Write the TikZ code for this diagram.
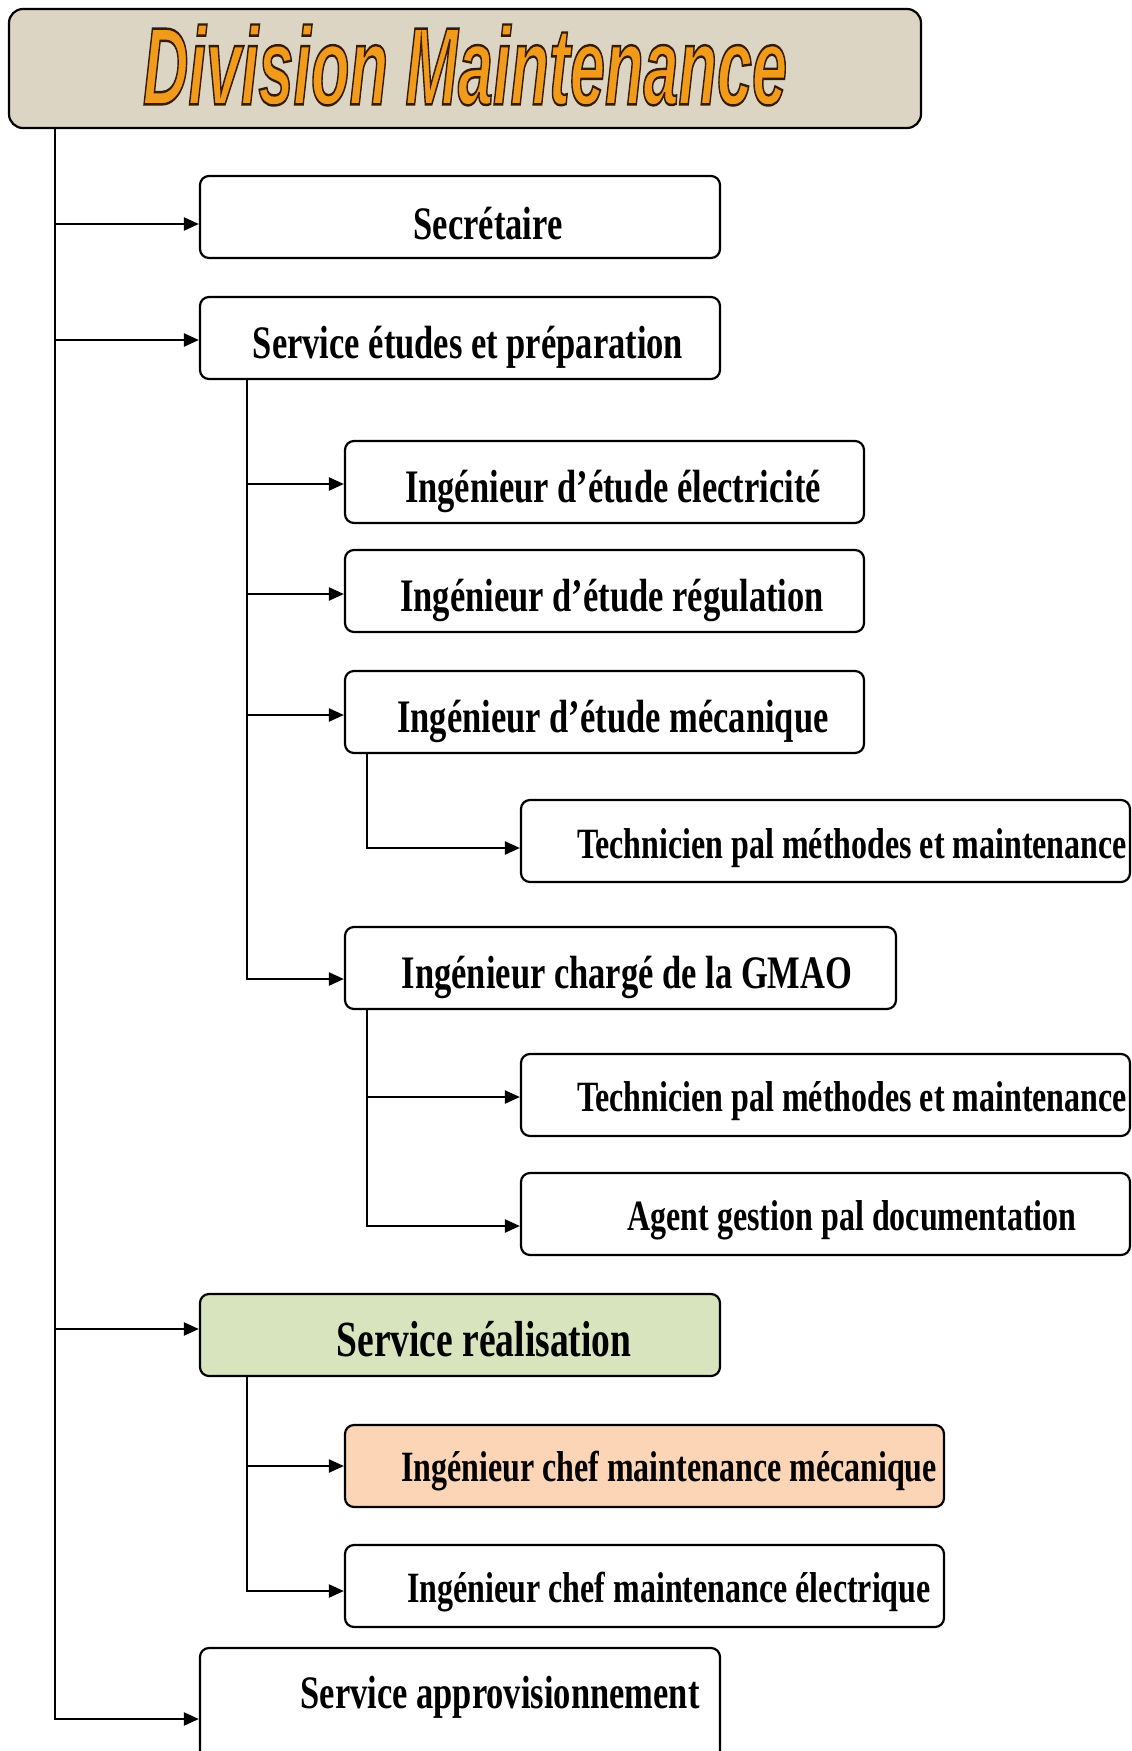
\documentclass[tikz,border=0pt]{standalone}
\usepackage{fontspec}
\usepackage{graphicx}
\setmainfont{Liberation Serif}
\newfontfamily\headfont[FakeBold=2.2]{Liberation Sans}
\usetikzlibrary{arrows.meta}
\definecolor{linen}{HTML}{DDD5C3}
\definecolor{realgreen}{HTML}{D7E4BD}
\definecolor{mecaorange}{HTML}{FBD5B5}
\definecolor{headorange}{HTML}{F29A1A}
\newcommand\tallbox[1]{\scalebox{1}[1.35]{#1}}
% heading letters: orange fill, dark brown outline stroke
\newcommand\divtitle{\headfont\bfseries\itshape\fontsize{63}{70}\selectfont
  \color{headorange}\special{pdf:code 0.2 0.11 0 RG}%
  \scalebox{1}[1.75]{Division Maintenance}}
\begin{document}
\begin{tikzpicture}[x=1pt,y=-1pt,
  box/.style={draw=black, line width=2.2pt, rounded corners=9pt, fill=white,
              inner sep=0pt, minimum height=82pt},
  lbl/.style={inner sep=0pt, font=\fontsize{34.5}{40}\selectfont\bfseries},
  lblsmall/.style={inner sep=0pt, font=\fontsize{32}{38}\selectfont\bfseries},
  lblbig/.style={inner sep=0pt, font=\fontsize{37.5}{44}\selectfont\bfseries},
  arr/.style={line width=2.2pt, -{Triangle[length=15pt,width=13pt]}}
]
\useasboundingbox (0,0) rectangle (1132,1751);

% heading banner
\node[draw=black, line width=2.2pt, rounded corners=14pt, fill=linen,
      minimum width=912pt, minimum height=119pt] (head) at (465,68.5) {};
\node[inner sep=0pt] (headtxt) at (465,65) {\divtitle};

% first level
\node[box, minimum width=520pt] (sec) at (460,217) {};
\node[lbl] at (488,224) {\tallbox{Secrétaire}};
\node[box, minimum width=520pt] (etu) at (460,338) {};
\node[lbl] at (468,347) {\tallbox{Service études et préparation}};
\node[box, minimum width=520pt, fill=realgreen] (real) at (460,1335) {};
\node[lblbig] at (484,1339) {\tallbox{Service réalisation}};
\node[box, minimum width=520pt, minimum height=150pt] (appro) at (460,1723) {};
\node[lbl] at (500,1697) {\tallbox{Service approvisionnement}};

% studies branch
\node[box, minimum width=519pt] (elec) at (604.5,482) {};
\node[lbl] at (613,491) {\tallbox{Ingénieur d’étude électricité}};
\node[box, minimum width=519pt] (regu) at (604.5,591) {};
\node[lbl] at (612,600) {\tallbox{Ingénieur d’étude régulation}};
\node[box, minimum width=519pt] (meca) at (604.5,712) {};
\node[lbl] at (613,721) {\tallbox{Ingénieur d’étude mécanique}};
\node[box, minimum width=609pt] (tecA) at (825.5,841) {};
\node[lblsmall] at (852,848) {\tallbox{Technicien pal méthodes et maintenance}};
\node[box, minimum width=551pt] (gmao) at (620.5,968) {};
\node[lbl] at (627,977) {\tallbox{Ingénieur chargé de la GMAO}};
\node[box, minimum width=609pt] (tecB) at (825.5,1095) {};
\node[lblsmall] at (852,1101) {\tallbox{Technicien pal méthodes et maintenance}};
\node[box, minimum width=609pt] (agent) at (825.5,1214) {};
\node[lblsmall] at (852,1220) {\tallbox{Agent gestion pal documentation}};

% production branch
\node[box, minimum width=599pt, fill=mecaorange] (chefm) at (644.5,1466) {};
\node[lblsmall] at (669,1471) {\tallbox{Ingénieur chef maintenance mécanique}};
\node[box, minimum width=599pt] (chefe) at (644.5,1586) {};
\node[lblsmall] at (669,1592) {\tallbox{Ingénieur chef maintenance électrique}};

% connectors
\coordinate (mainline) at ([xshift=47pt]head.south west);
\draw[arr] (mainline) |- ([yshift=-7pt]sec.west);
\draw[arr] (mainline) |- ([yshift=-2pt]etu.west);
\draw[arr] (mainline) |- ([yshift=6pt]real.west);
\draw[arr] (mainline) |- (appro.west |- 0,1719);

\coordinate (etuline) at ([xshift=48pt]etu.south west);
\draw[arr] (etuline) |- ([yshift=-2pt]elec.west);
\draw[arr] (etuline) |- ([yshift=-3pt]regu.west);
\draw[arr] (etuline) |- ([yshift=-3pt]meca.west);
\draw[arr] (etuline) |- ([yshift=-11pt]gmao.west);

\coordinate (mecaline) at ([xshift=23pt]meca.south west);
\draw[arr] (mecaline) |- ([yshift=-7pt]tecA.west);

\coordinate (gmaoline) at ([xshift=23pt]gmao.south west);
\draw[arr] (gmaoline) |- ([yshift=-2pt]tecB.west);
\draw[arr] (gmaoline) |- ([yshift=-12pt]agent.west);

\coordinate (realline) at ([xshift=48pt]real.south west);
\draw[arr] (realline) |- (chefm.west);
\draw[arr] (realline) |- ([yshift=-5pt]chefe.west);
\end{tikzpicture}
\end{document}
